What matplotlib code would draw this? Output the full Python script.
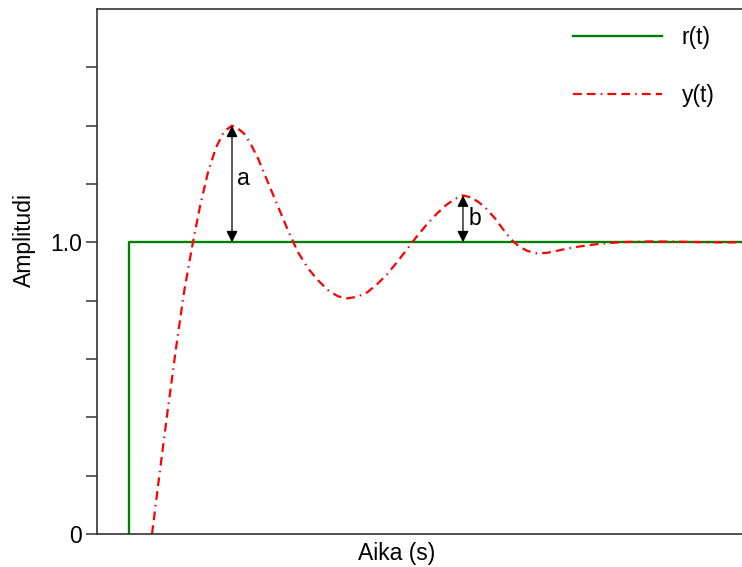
import numpy as np
import matplotlib
matplotlib.use("Agg")
import matplotlib.pyplot as plt

plt.rcParams['font.family'] = ['Liberation Sans', 'DejaVu Sans']
plt.rcParams['font.size'] = 16.5
plt.rcParams['lines.scale_dashes'] = False

# reference step r(t)
r_t = [0.0, 0.0, 9.5]
r_y = [0.0, 1.0, 1.0]

# measured output y(t)
y_t = [0.353, 0.477, 0.601, 0.725, 0.849, 0.973, 1.097, 1.221, 1.345, 1.469,
       1.593, 1.686, 1.779, 1.872, 1.996, 2.151, 2.306, 2.461, 2.616, 2.771,
       2.926, 3.081, 3.236, 3.376, 3.531, 3.686, 3.841, 3.996, 4.151, 4.306,
       4.461, 4.616, 4.771, 4.926, 5.050, 5.174, 5.298, 5.422, 5.547, 5.671,
       5.795, 5.919, 6.043, 6.167, 6.322, 6.477, 6.632, 6.802, 6.988, 7.221,
       7.453, 7.686, 8.074, 8.539, 9.004, 9.500]
y_v = [0.000, 0.219, 0.432, 0.637, 0.829, 0.983, 1.124, 1.240, 1.325, 1.380,
       1.400, 1.390, 1.373, 1.342, 1.288, 1.205, 1.123, 1.041, 0.966, 0.911,
       0.870, 0.836, 0.815, 0.808, 0.813, 0.828, 0.856, 0.890, 0.932, 0.976,
       1.021, 1.062, 1.099, 1.130, 1.149, 1.161, 1.154, 1.137, 1.113, 1.082,
       1.045, 1.010, 0.986, 0.971, 0.962, 0.964, 0.971, 0.979, 0.986, 0.993,
       0.998, 1.001, 1.003, 1.002, 1.000, 1.000]

# overshoot peaks and their labels
peaks = [(1.593, 1.400), (5.174, 1.161)]
peak_names = ['a', 'b']
name_y = [1.22, 1.082]

fig = plt.figure(figsize=(7.42, 5.67), dpi=100)
ax = fig.add_axes([97 / 742, 33 / 567, 645 / 742, 525 / 567])

ax.plot(r_t, r_y, color='green', lw=1.7, label='r(t)')
ax.plot(y_t, y_v, color='red', lw=1.6, label='y(t)',
        dashes=(6.3, 3.7, 6.3, 3.7, 1.1, 3.7))

for (tp, yp), name, ny in zip(peaks, peak_names, name_y):
    ax.annotate('', xy=(tp, yp), xytext=(tp, 1.0),
                arrowprops=dict(arrowstyle='<|-|>', color='black', lw=0.9,
                                mutation_scale=17, shrinkA=0, shrinkB=0))
    ax.text(tp + 0.08, ny, name, ha='left', va='center')

ax.set_xlim(-0.5, 9.5)
ax.set_ylim(0, 1.8)
ax.set_xticks([])
ax.set_yticks(np.arange(0, 1.7, 0.2))
ax.set_yticklabels(['0', '', '', '', '', '1.0', '', '', ''])
ax.tick_params(axis='y', direction='out', length=8, width=1.1,
               color='#333333', pad=3)

for side in ['left', 'bottom', 'top']:
    ax.spines[side].set_color('#333333')
    ax.spines[side].set_linewidth(1.2)
ax.spines['right'].set_visible(False)

ax.set_xlabel('Aika (s)')
ax.set_ylabel('Amplitudi')
ax.xaxis.set_label_coords(0.465, -0.015)
ax.yaxis.set_label_coords(-0.094, 0.56)

ax.legend(loc='upper left', bbox_to_anchor=(0.738, 0.968), frameon=False,
          borderpad=0, borderaxespad=0, handlelength=3.9,
          handletextpad=0.85, labelspacing=1.55)

fig.savefig('out.png', dpi=100)
